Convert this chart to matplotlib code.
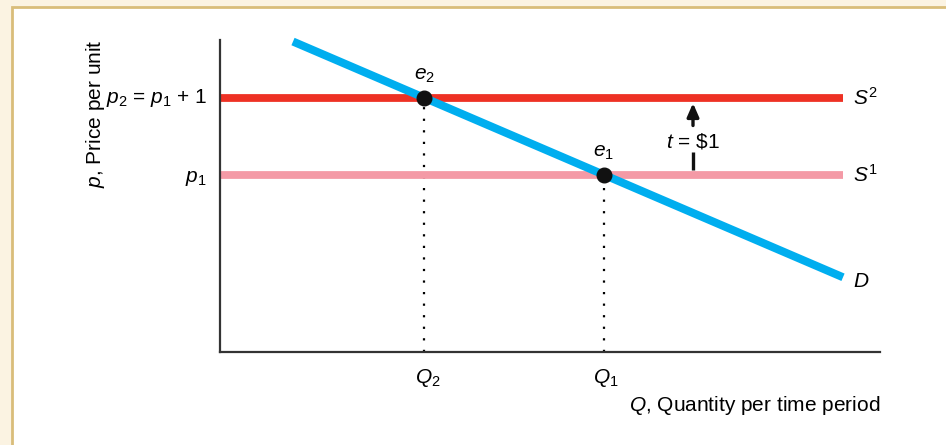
import matplotlib

matplotlib.use("Agg")
import matplotlib.pyplot as plt
from matplotlib.patches import Rectangle

# prices (p1 before the tax, p2 after a $1 specific tax)
p1 = 2.3
tax = 1.0
p2 = p1 + tax

# demand curve endpoints (quantity, price)
demand_q = [0.73, 6.23]
demand_p = [4.03, 0.97]

# supply curves run across the drawn quantity range
supply_q = [0.0, 6.23]

x_max = 6.60
y_max = 4.05
arrow_q = 4.73

RED = "#EE3124"
PINK = "#F49AA6"
BLUE = "#00AEEF"
AXIS = "#333333"
FS = 15


def demand_quantity(p):
    # linear demand: invert price -> quantity
    slope = (demand_q[1] - demand_q[0]) / (demand_p[1] - demand_p[0])
    return demand_q[0] + slope * (p - demand_p[0])


q1 = demand_quantity(p1)
q2 = demand_quantity(p2)

plt.rcParams["font.family"] = ["Liberation Sans", "DejaVu Sans"]
plt.rcParams["mathtext.fontset"] = "custom"
plt.rcParams["mathtext.it"] = "Liberation Sans:italic"
plt.rcParams["mathtext.rm"] = "Liberation Sans"

W, H = 946, 445
fig = plt.figure(figsize=(W / 100, H / 100), dpi=100)
fig.patch.set_facecolor("#FBF3E2")

# white panel with tan border
panel = Rectangle((12 / W, -0.1), (W - 12) / W + 0.01, (H - 7) / H + 0.1,
                  transform=fig.transFigure, facecolor="white",
                  edgecolor="#D9BD7A", lw=2.0, zorder=-10)
fig.patches.append(panel)

ax = fig.add_axes([220 / W, (H - 352) / H, 660 / W, 312 / H])
ax.set_facecolor("none")
ax.set_xlim(0, x_max)
ax.set_ylim(0, y_max)
for side in ["top", "right"]:
    ax.spines[side].set_visible(False)
for side in ["left", "bottom"]:
    ax.spines[side].set_color(AXIS)
    ax.spines[side].set_linewidth(1.6)
ax.set_xticks([])
ax.set_yticks([])

# supply curves
ax.plot(supply_q, [p2, p2], color=RED, lw=5.6, solid_capstyle="butt", zorder=2)
ax.plot(supply_q, [p1, p1], color=PINK, lw=5.6, solid_capstyle="butt", zorder=2)

# demand
ax.plot(demand_q, demand_p, color=BLUE, lw=5.8, solid_capstyle="butt",
        zorder=3, clip_on=False)

# equilibria and drop lines
for q, p in [(q1, p1), (q2, p2)]:
    ax.plot([q, q], [0, p], color="black", lw=1.6, ls=(0, (1, 4.2)), zorder=1)
ax.plot([q1, q2], [p1, p2], "o", color="#111111", ms=10.5, zorder=4)

ax.text(q2, p2 + 0.16, r"$e_2$", ha="center", va="bottom", fontsize=FS)
ax.text(q1, p1 + 0.16, r"$e_1$", ha="center", va="bottom", fontsize=FS)

# tax arrow between S1 and S2, split around its label
ax.plot([arrow_q, arrow_q], [p1 + 0.06, p1 + 0.30], color="#111111", lw=2.4,
        solid_capstyle="butt")
ax.annotate("", xy=(arrow_q, p2 - 0.07), xytext=(arrow_q, p2 - 0.36),
            arrowprops=dict(arrowstyle="-|>,head_length=0.8,head_width=0.35",
                            color="#111111", lw=2.4, shrinkA=0, shrinkB=0))
ax.text(arrow_q, p1 + 0.43, r"$t$ = \$1", ha="center", va="center",
        fontsize=FS)

# curve labels
label_q = supply_q[1] + 0.1
ax.text(label_q, p2, r"$S^2$", ha="left", va="center", fontsize=FS)
ax.text(label_q, p1, r"$S^1$", ha="left", va="center", fontsize=FS)
ax.text(label_q, demand_p[1] - 0.05, r"$D$", ha="left", va="center",
        fontsize=FS)

# axis labels
ax.text(-0.13, p2, r"$p_2$ = $p_1$ + 1", ha="right", va="center", fontsize=FS)
ax.text(-0.13, p1 - 0.05, r"$p_1$", ha="right", va="center", fontsize=FS)
ax.text(q2 + 0.04, -0.2, r"$Q_2$", ha="center", va="top", fontsize=FS)
ax.text(q1 + 0.02, -0.2, r"$Q_1$", ha="center", va="top", fontsize=FS)
ax.text(x_max, -0.55, r"$Q$, Quantity per time period", ha="right", va="top",
        fontsize=FS)
fig.text(95 / W, 1 - 114 / H, r"$p$, Price per unit", rotation=90,
         ha="center", va="center", fontsize=FS)

fig.savefig("out.png", dpi=100, facecolor=fig.get_facecolor())
